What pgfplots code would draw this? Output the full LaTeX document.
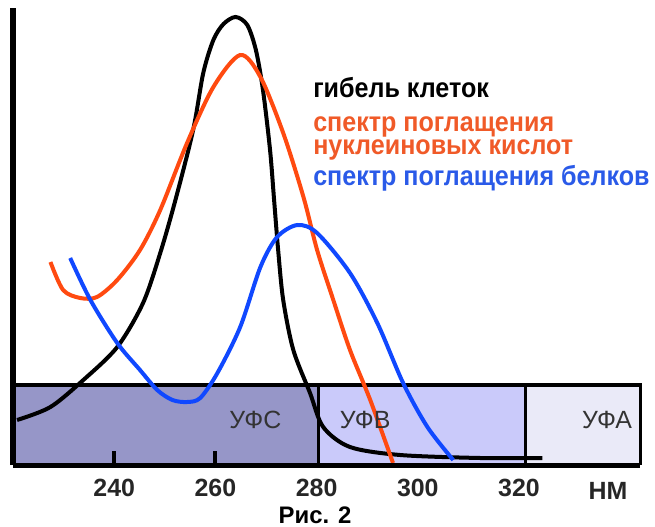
\documentclass[border=0pt]{standalone}
\usepackage{pgfplots}
\pgfplotsset{compat=1.18}
\usepackage{graphicx}
\usepackage{fontspec}
\setmainfont{Liberation Sans}
\definecolor{ufc}{HTML}{9696C8}
\definecolor{ufb}{HTML}{CACAFA}
\definecolor{ufa}{HTML}{EAEAF8}
\definecolor{orng}{HTML}{FF4A10}
\definecolor{blu}{HTML}{1048FF}
\definecolor{orngt}{HTML}{F05A28}
\definecolor{blut}{HTML}{2A5AE8}
\newcommand\legfont{\fontsize{24}{24}\selectfont\bfseries}
\newcommand\leg[1]{\scalebox{1.05}[1.15]{\legfont #1}}
\begin{document}
\begin{tikzpicture}
\begin{axis}[at={(0,0)}, anchor=south west, x=5.06bp, y=1bp,
  xmin=220, xmax=344, ymin=0, ymax=457,
  axis x line=bottom, axis y line=left,
  axis line style={-, line width=5bp, black},
  axis on top, ytick=\empty,
  xtick={240,260,280,300,320}, major tick length=0pt,
  xticklabel style={font=\fontsize{25}{25}\selectfont\bfseries, text=black!85, yshift=-11bp},
  /pgf/number format/assume math mode=true,
  /pgf/number format/1000 sep={}, scaled ticks=false,
  clip=false]
% bands
\addplot[fill=ufc, draw=none] coordinates {(220,80) (280.3,80)} \closedcycle;
\addplot[fill=ufb, draw=none] coordinates {(280.3,80) (321.2,80)} \closedcycle;
\addplot[fill=ufa, draw=none] coordinates {(321.2,80) (344,80)} \closedcycle;
\addplot[black, line width=3.5bp] coordinates {(220,80) (344,80) (344,0)};
\addplot[black, line width=3bp] coordinates {(280.3,80) (280.3,0)};
\addplot[black, line width=3bp] coordinates {(321.2,80) (321.2,0)};
% tick marks
\addplot[black, line width=4bp] coordinates {(240,0) (240,14)};
\addplot[black, line width=4bp] coordinates {(260,0) (260,14)};
% cell death
\addplot[black, line width=4bp, smooth] coordinates {
(220.8,45) (227.4,58) (233.9,85) (240.6,118) (245.7,162) (249.1,212) (252.1,265)
(255.6,335) (257.6,392) (259.6,425) (261.6,441) (264.0,448) (266.3,440)
(268.0,415) (269.4,375)
(270.8,315) (271.6,265) (272.4,215) (273.4,165) (275.4,115) (278.7,72)
(281.3,38) (286.6,18) (296.5,10) (312.3,7) (324.6,7)};
% nucleic acids
\addplot[orng, line width=4bp, smooth] coordinates {
(227.4,203) (229.9,175) (233.3,167) (236.6,168) (240.6,185) (245.1,215)
(249.1,255) (254.4,322) (259.6,378) (264.9,410) (268.9,388) (273.4,332)
(277.4,268) (280.1,215) (283.3,165) (286.6,115) (290.6,65) (295.1,2)};
% proteins
\addplot[blu, line width=4bp, smooth] coordinates {
(231.3,207) (235.3,165) (240.6,122) (245.1,95) (248.5,75) (251.5,65)
(254.4,63) (257.0,67) (260.4,92) (264.9,138) (268.9,198) (272.2,228)
(276.2,240) (280.1,232) (286.6,192) (292.0,142) (297.1,82) (301.9,38) (307.0,5)};
% band labels
\node[text=black!80, font=\fontsize{25}{25}\selectfont] at (axis cs:267.9,45) {УФС};
\node[text=black!80, font=\fontsize{25}{25}\selectfont] at (axis cs:289.6,45) {УФВ};
\node[text=black!80, font=\fontsize{25}{25}\selectfont] at (axis cs:337.4,45) {УФА};
% legend texts
\node[anchor=base west, inner sep=0pt, text=black] at (axis cs:279.3,368) {\leg{гибель клеток}};
\node[anchor=base west, inner sep=0pt, text=orngt] at (axis cs:279.3,334) {\leg{спектр поглащения}};
\node[anchor=base west, inner sep=0pt, text=orngt] at (axis cs:279.3,311) {\leg{нуклеиновых кислот}};
\node[anchor=base west, inner sep=0pt, text=blut] at (axis cs:279.3,280) {\leg{спектр поглащения белков}};
% unit and caption
\node[text=black!85, font=\fontsize{25}{25}\selectfont\bfseries] at (axis cs:337.6,-26) {НМ};
\node[text=black, font=\fontsize{24}{24}\selectfont\bfseries] at (axis cs:279.7,-50) {Рис. 2};
\end{axis}
\pgfresetboundingbox
\path[use as bounding box] (-13bp,-62bp) rectangle (642bp,465bp);
\end{tikzpicture}
\end{document}
